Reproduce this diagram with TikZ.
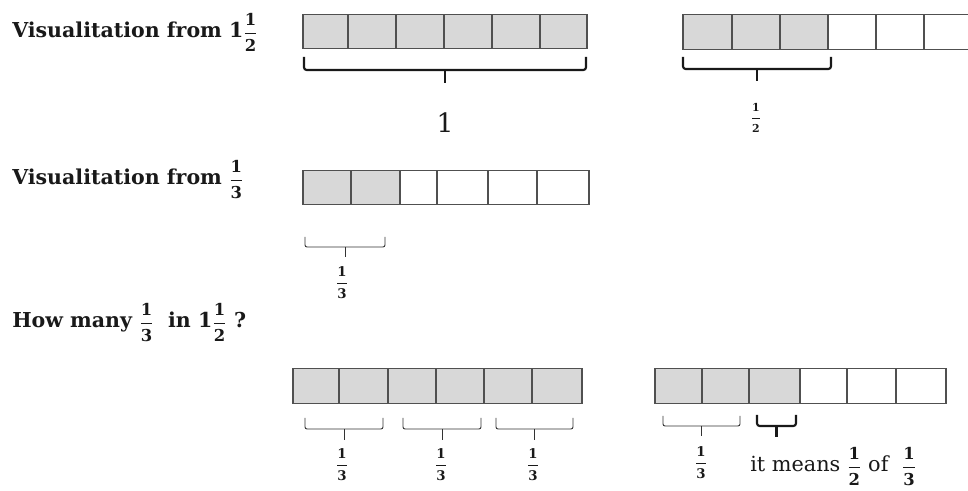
\documentclass[tikz,border=0pt]{standalone}
\usepackage{amsmath}
\usepackage{fontspec}
\setmainfont{DejaVu Serif}
\usetikzlibrary{calc}

\definecolor{barfill}{RGB}{216,216,216}
\definecolor{barline}{RGB}{80,80,80}

% stacked fraction, digits at size #1 (pt)
\newcommand{\fr}[3][12.3]{\ensuremath{\genfrac{}{}{0.5pt}{0}%
  {\text{\fontsize{#1}{#1}\selectfont\bfseries #2}}{\text{\fontsize{#1}{#1}\selectfont\bfseries #3}}}}
% under-bracket: style, name, x left, x right, y top, depth
\newcommand{\ubr}[6]{%
  \coordinate (#2l) at (#3,#5);
  \coordinate (#2r) at (#4,#5);
  \draw[#1] (#2l) -- ++(0,#6) -| (#2r);
  \draw[#1] ($(#2l)!0.5!(#2r)+(0,#6)$) -- ++(0,#6) coordinate (#2t);}

\begin{document}
\begin{tikzpicture}[
  x=0.75pt, y=-0.75pt,
  cell/.style={draw=barline, line width=0.8pt, inner sep=0pt, outer sep=0pt, minimum height=26pt},
  title/.style={anchor=base west, inner sep=0pt, text=black!90, font=\fontsize{15.4}{18}\selectfont\bfseries},
  note/.style={anchor=base west, inner sep=0pt, text=black!90, font=\fontsize{15.6}{18}\selectfont},
  thinbrk/.style={line width=0.7pt, rounded corners=1.5pt, black!80},
  thickbrk/.style={line width=1.6pt, rounded corners=2pt, black!90},
  smallfrac/.style={inner sep=0pt, text=black!90, font=\fontsize{13}{14}\selectfont\bfseries}
]
  \path[use as bounding box] (0,0) rectangle (968,491);
  \clip (0,0) rectangle (968,491);

  % Titles
  \node[title] (t1) at (12,38) {Visualitation from 1\fr{1}{2}};
  \node[title] (t2) at (12,185) {Visualitation from \fr{1}{3}};
  \node[title] (t3) at (12,328) {How many \fr{1}{3}\ \ in 1\fr{1}{2} ?};

  % Bars
  \foreach \l/\r [count=\i] in {303/348,348/396,396/444,444/492,492/540,540/587}
    \node[cell, fill=barfill, minimum width={(\r-\l)*0.75pt}] (a\i) at ({(\l+\r)/2},31.5) {};
  \foreach \l/\r/\f [count=\i] in {683/732/barfill,732/780/barfill,780/828/barfill,828/876/white,876/924/white,924/972/white}
    \node[cell, fill=\f, minimum width={(\r-\l)*0.75pt}] (b\i) at ({(\l+\r)/2},32) {};
  \foreach \l/\r/\f [count=\i] in {303/351/barfill,351/400/barfill,400/437/white,437/488/white,488/537/white,537/589/white}
    \node[cell, fill=\f, minimum width={(\r-\l)*0.75pt}] (c\i) at ({(\l+\r)/2},187.5) {};
  \foreach \l/\r [count=\i] in {293/339,339/388,388/436,436/484,484/532,532/582}
    \node[cell, fill=barfill, minimum width={(\r-\l)*0.75pt}] (d\i) at ({(\l+\r)/2},386) {};
  \foreach \l/\r/\f [count=\i] in {655/702/barfill,702/749/barfill,749/800/barfill,800/847/white,847/896/white,896/946/white}
    \node[cell, fill=\f, minimum width={(\r-\l)*0.75pt}] (e\i) at ({(\l+\r)/2},386) {};

  % Brackets
  \ubr{thickbrk}{A}{304}{586}{57}{13}
  \ubr{thickbrk}{B}{683}{831}{57}{12}
  \ubr{thinbrk}{C}{305}{385}{237}{10}
  \ubr{thinbrk}{Da}{305}{383}{418}{11}
  \ubr{thinbrk}{Db}{403}{481}{418}{11}
  \ubr{thinbrk}{Dc}{496}{573}{418}{11}
  \ubr{thinbrk}{Ea}{663}{740}{416}{10}
  \ubr{thickbrk}{Eb}{757}{796}{415}{11}

  % Labels
  \node[inner sep=0pt, text=black!90, font=\fontsize{20}{22}\selectfont] (one) at (445,123) {1};
  \node[smallfrac, font=\fontsize{12}{13}\selectfont\bfseries] (half) at (756,118) {\fr[8.2]{1}{2}};
  \node[smallfrac] (thirdC) at (342,283) {\fr[10]{1}{3}};
  \foreach \x [count=\i] in {342,441,533}
    \node[smallfrac] (thirdD\i) at (\x,465) {\fr[10]{1}{3}};
  \node[smallfrac] (thirdE) at (701,463) {\fr[10]{1}{3}};
  \node[note] (means) at (750,472) {it means \fr{1}{2} of \ \fr{1}{3}};
\end{tikzpicture}
\end{document}
